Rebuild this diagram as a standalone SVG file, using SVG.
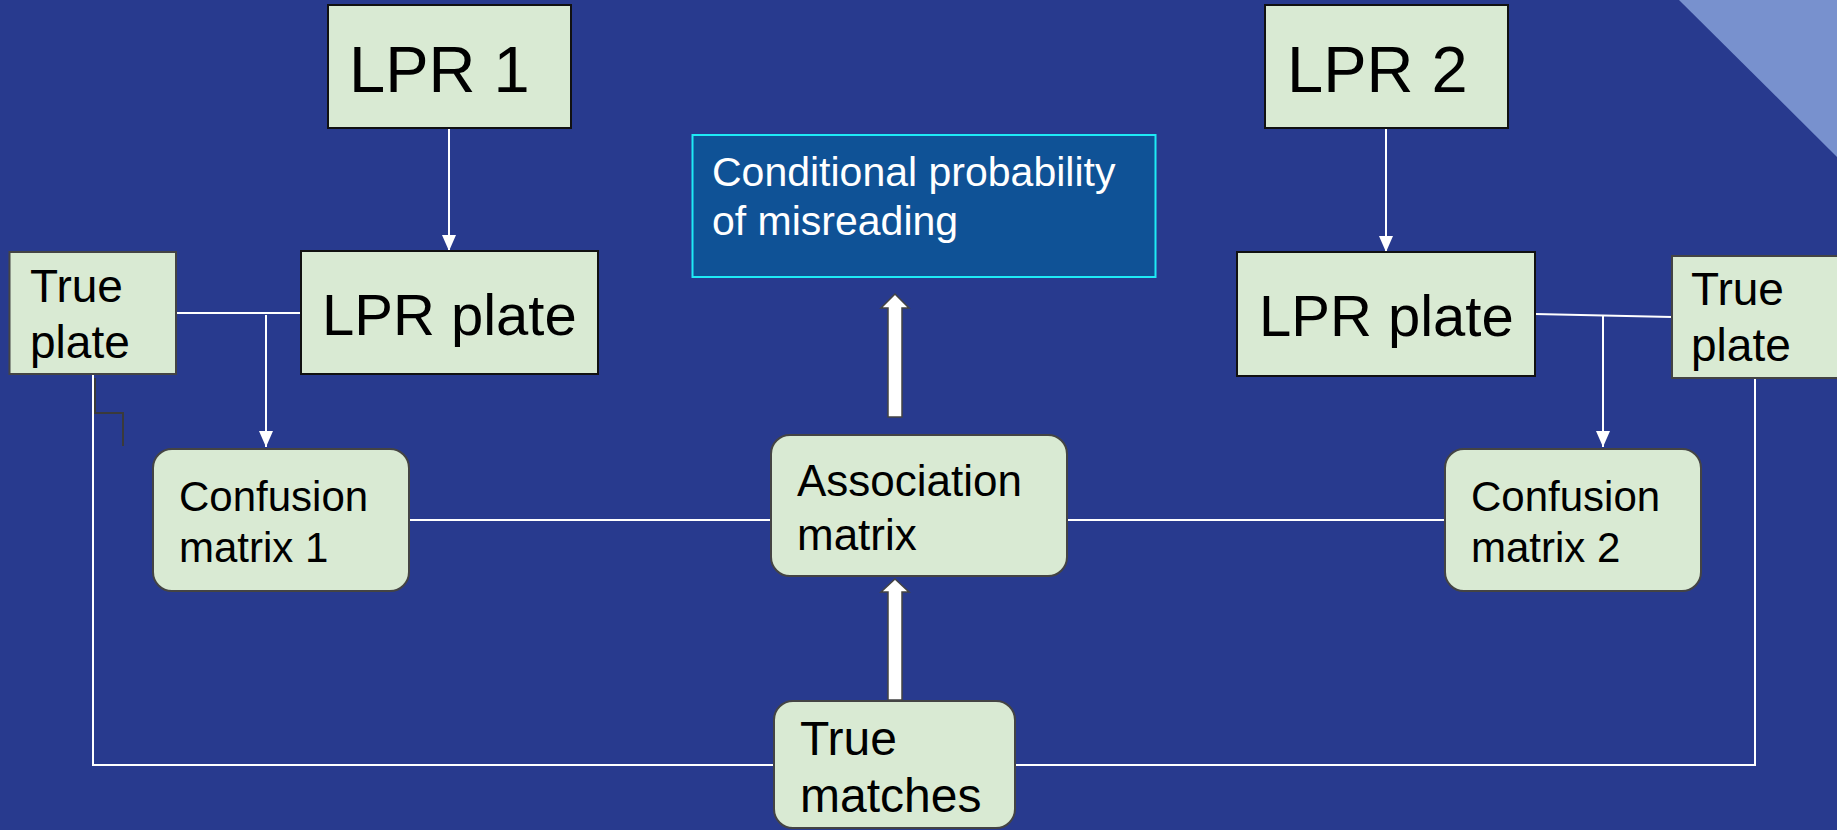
<svg xmlns="http://www.w3.org/2000/svg" width="1837" height="830" viewBox="0 0 1837 830">
<defs>
<style>
.bg{fill:#283A8E}
.box{fill:#D9EAD3;stroke:#111;stroke-width:2}
.gbox{fill:#D9EAD3;stroke:#444;stroke-width:2}
.t{font-family:"Liberation Sans",Arial,sans-serif;fill:#000}
.w{stroke:#fff;stroke-width:2;fill:none}
.blk{fill:#fff;stroke:#444;stroke-width:1.5}
</style>
<marker id="ah" markerUnits="userSpaceOnUse" markerWidth="16" markerHeight="14" refX="16" refY="7" orient="auto">
<path d="M0,0 L16,7 L0,14 z" fill="#fff"/>
</marker>
</defs>
<rect class="bg" x="0" y="0" width="1837" height="830"/>
<polygon points="1679,0 1837,0 1837,157" fill="#7891CE"/>

<g id="connectors">
<line class="w" x1="449" y1="128" x2="449" y2="251" marker-end="url(#ah)"/>
<line class="w" x1="1386" y1="128" x2="1386" y2="252" marker-end="url(#ah)"/>
<line class="w" x1="176" y1="313" x2="301" y2="313"/>
<line class="w" x1="266" y1="315" x2="266" y2="447" marker-end="url(#ah)"/>
<line class="w" x1="1535" y1="314" x2="1672" y2="317"/>
<line class="w" x1="1603" y1="316" x2="1603" y2="447" marker-end="url(#ah)"/>
<line class="w" x1="409" y1="520" x2="771" y2="520"/>
<line class="w" x1="1067" y1="520" x2="1445" y2="520"/>
<polyline class="w" points="93,375 93,765 774,765"/>
<polyline class="w" points="1015,765 1755,765 1755,378"/>
<path d="M95,378 V413 H123 V446" fill="none" stroke="#3a3a3a" stroke-width="2"/>
<polygon class="blk" points="888,417 902,417 902,308 909,308 895,294 881,308 888,308"/>
<polygon class="blk" points="888,700 902,700 902,592 909,592 895,579 881,592 888,592"/>
</g>

<g id="lpr1">
<rect class="box" x="328" y="5" width="243" height="123"/>
<text class="t" x="349" y="92" font-size="65">LPR 1</text>
</g>
<g id="lpr2">
<rect class="box" x="1265" y="5" width="243" height="123"/>
<text class="t" x="1287" y="92" font-size="65">LPR 2</text>
</g>
<g id="lprplate1">
<rect class="box" x="301" y="251" width="297" height="123"/>
<text class="t" x="322" y="335" font-size="58">LPR plate</text>
</g>
<g id="lprplate2">
<rect class="box" x="1237" y="252" width="298" height="124"/>
<text class="t" x="1259" y="336" font-size="58">LPR plate</text>
</g>
<g id="trueplate1">
<rect class="gbox" x="9.5" y="252" width="166.5" height="122"/>
<text class="t" font-size="46"><tspan x="30" y="302">True</tspan><tspan x="30" y="358">plate</tspan></text>
</g>
<g id="trueplate2">
<rect class="gbox" x="1672" y="256" width="170" height="122"/>
<text class="t" font-size="46"><tspan x="1691" y="305">True</tspan><tspan x="1691" y="361">plate</tspan></text>
</g>
<g id="conditional">
<rect x="692.5" y="135" width="463" height="142" fill="#0F5296" stroke="#1EEAF5" stroke-width="2"/>
<text class="t" font-size="41" fill="#fff" style="fill:#fff"><tspan x="712" y="186">Conditional probability</tspan><tspan x="712" y="235">of misreading</tspan></text>
</g>
<g id="confusion1">
<rect class="gbox" x="153" y="449" width="256" height="142" rx="19" ry="19"/>
<text class="t" font-size="42"><tspan x="179" y="511">Confusion</tspan><tspan x="179" y="562">matrix 1</tspan></text>
</g>
<g id="association">
<rect class="gbox" x="771" y="435" width="296" height="141" rx="19" ry="19"/>
<text class="t" font-size="44"><tspan x="797" y="496">Association</tspan><tspan x="797" y="550">matrix</tspan></text>
</g>
<g id="confusion2">
<rect class="gbox" x="1445" y="449" width="256" height="142" rx="19" ry="19"/>
<text class="t" font-size="42"><tspan x="1471" y="511">Confusion</tspan><tspan x="1471" y="562">matrix 2</tspan></text>
</g>
<g id="truematches">
<rect class="gbox" x="774" y="701" width="241" height="127" rx="19" ry="19"/>
<text class="t" font-size="48"><tspan x="800" y="755">True</tspan><tspan x="800" y="812">matches</tspan></text>
</g>
</svg>
